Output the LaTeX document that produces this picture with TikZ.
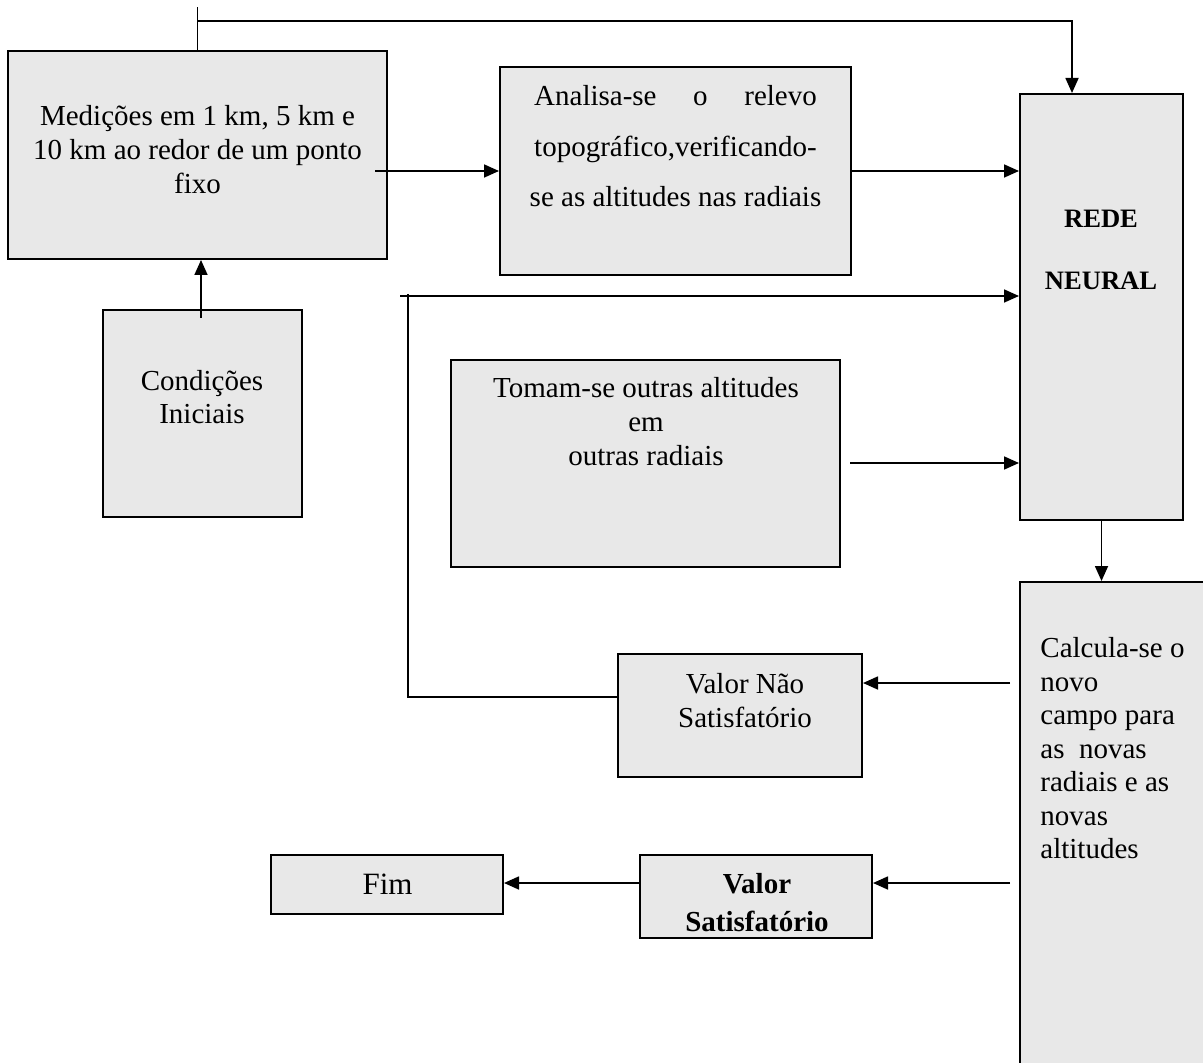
\documentclass[tikz,border=0pt]{standalone}
\usepackage{fontspec}
\setmainfont{Liberation Serif}
\usepackage{calc}
\usetikzlibrary{arrows.meta,fit,positioning}
\definecolor{boxgray}{RGB}{232,232,232}

\begin{document}
\begin{tikzpicture}[x=0.5pt,y=-0.5pt,>={Triangle[length=7.5pt,width=6.5pt]},
  box/.style={draw,line width=1pt,fill=boxgray,inner sep=0pt},
  txt/.style={inner sep=0pt,anchor=north,align=center,font=\fontsize{14.5}{17}\selectfont},
  bold/.style={txt,font=\fontsize{13.3}{31}\selectfont\bfseries},
  link/.style={line width=0.85pt}]
\useasboundingbox (0,0) rectangle (1203,1063);
\clip (0,0) rectangle (1203,1063);
\node[box,fit={(8,51) (387,259)}] (med) {};
\node[box,fit={(500,67) (851,275)}] (ana) {};
\node[box,fit={(1020,94) (1183,520)}] (rede) {};
\node[box,fit={(103,310) (302,517)}] (cond) {};
\node[box,fit={(451,360) (840,567)}] (tom) {};
\node[box,fit={(1020,582) (1215,1080)}] (calc) {};
\node[box,fit={(618,654) (862,777)}] (vnao) {};
\node[box,fit={(640,855) (872,938)}] (vsat) {};
\node[box,fit={(271,855) (503,914)}] (fim) {};
\node[txt] (medt) at (197.5,105) {Medições em 1 km, 5 km e\\10 km ao redor de um ponto\\fixo};
\node[txt,font=\fontsize{14.5}{25.25}\selectfont] (anat) at (675.5,85) {\makebox[\widthof{topográfico,verificando-}][s]{Analisa-se o relevo}\\topográfico,verificando-\\se as altitudes nas radiais};
\node[bold] (redet) at (1101,210) {REDE\\NEURAL};
\node[txt,font=\fontsize{14.5}{16.5}\selectfont] (condt) at (202,370) {Condições\\Iniciais};
\node[txt] (tomt) at (646,377) {Tomam-se outras altitudes\\em\\outras radiais};
\node[txt,align=left,anchor=north west,font=\fontsize{14.5}{16.75}\selectfont] (calct) at (1040,637) {Calcula-se o\\novo\\campo para\\as\ \ novas\\radiais e as\\novas\\altitudes};
\node[txt] (vnaot) at (745,673) {Valor Não\\Satisfatório};
\node[bold,font=\fontsize{14.5}{19}\selectfont\bfseries] (vsatt) at (757,873) {Valor\\Satisfatório};
\node[txt,font=\fontsize{15.5}{18}\selectfont] (fimt) at (387.5,874) {Fim};
\coordinate (medout) at (375,171);
\coordinate (condin) at (201,318);
\coordinate (loop) at (400,296);
\coordinate (loopcorner) at (408,294);
\coordinate (vnout) at (618,697);
\coordinate (tomout) at (850,463);
\coordinate (calcout1) at (1010,683);
\coordinate (calcout2) at (1010,883);
\draw[link] (med.north) -- ++(0,-43);
\draw[link,->] ([yshift=14.5pt]med.north) -| ([xshift=26.5pt]rede.north west);
\draw[link,->] (medout) -- (ana.west);
\draw[link,->] (condin) -- (condin |- med.south);
\draw[link,->] (ana.east) -- (ana.east -| rede.west);
\draw[link,->] (loop) -- (loop -| rede.west);
\draw[link] (vnout) -| (loopcorner);
\draw[link,->] (tomout) -- (tomout -| rede.west);
\draw[link,->] (rede.south) -- (rede.south |- calc.north);
\draw[link,->] (calcout1) -- (calcout1 -| vnao.east);
\draw[link,->] (calcout2) -- (calcout2 -| vsat.east);
\draw[link,->] (calcout2 -| vsat.west) -- (calcout2 -| fim.east);
\end{tikzpicture}
\end{document}
